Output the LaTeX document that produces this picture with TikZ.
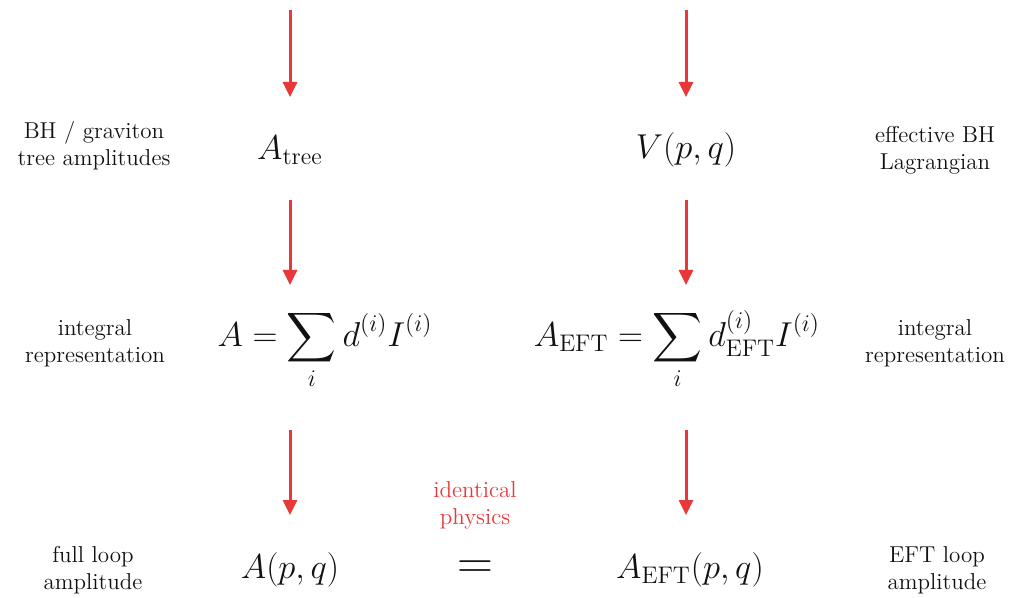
\documentclass[tikz,border=0pt]{standalone}
\usepackage{amsmath}
\usepackage{xcolor}
\usepackage{tikz}
\usetikzlibrary{arrows.meta,positioning}
\definecolor{flowred}{HTML}{E8383A}
\definecolor{ink}{HTML}{111111}

\begin{document}
\begin{tikzpicture}[x=0.5pt, y=-0.5pt,
  flow/.style={-{Triangle[length=7.5pt,width=7pt]}, line width=1.5pt, flowred},
  eq/.style={font=\fontsize{18.5}{22}\selectfont, text=ink},
  note/.style={font=\fontsize{11.5}{13.5}\selectfont, align=center, text=ink}]
\useasboundingbox (0,0) rectangle (1011,598);
% free starts of the top arrows
\coordinate (topL) at (290,10);
\coordinate (topR) at (686,10);
% first row
\node[eq] (tree) at (290,150) {$A_{\mathrm{tree}}$};
\node[eq] (pot) at (686,150) {$V(p,q)$};
\node[note] (treelab) at (94,146) {BH / graviton\\tree amplitudes};
\node[note] (potlab) at (935,150) {effective BH\\Lagrangian};
% second row
\node[eq] (sumL) at (325,350) {$\displaystyle A=\sum_i d^{(i)} I^{(i)}$};
\node[eq] (sumR) at (677,350) {$\displaystyle A_{\mathrm{EFT}}=\sum_i d^{(i)}_{\mathrm{EFT}} I^{(i)}$};
\node[note] (intL) at (95,343) {integral\\representation};
\node[note] (intR) at (935,343) {integral\\representation};
% third row
\node[eq] (full) at (290,570) {$A(p,q)$};
\node[eq, font=\fontsize{23}{26}\selectfont] (same) at (475,570) {$=$};
\node[eq] (eft) at (690,570) {$A_{\mathrm{EFT}}(p,q)$};
\node[note, text=flowred] (phys) at (475,505) {identical\\physics};
\node[note] (fulllab) at (93,570) {full loop\\amplitude};
\node[note] (eftlab) at (937,570) {EFT loop\\amplitude};
% arrows
\draw[flow, shorten >=26.5pt] (topL) -- (tree.center);
\draw[flow, shorten >=26.5pt] (topR) -- (pot.center);
\draw[flow, shorten <=25pt, shorten >=32.5pt] (tree.center) -- (tree |- sumL);
\draw[flow, shorten <=25pt, shorten >=32.5pt] (pot.center) -- (pot |- sumR);
\draw[flow, shorten <=40pt, shorten >=27.5pt] (tree |- sumL) -- (full.center);
\draw[flow, shorten <=40pt, shorten >=27.5pt] (pot |- sumR) -- (pot |- eft);
\end{tikzpicture}
\end{document}
